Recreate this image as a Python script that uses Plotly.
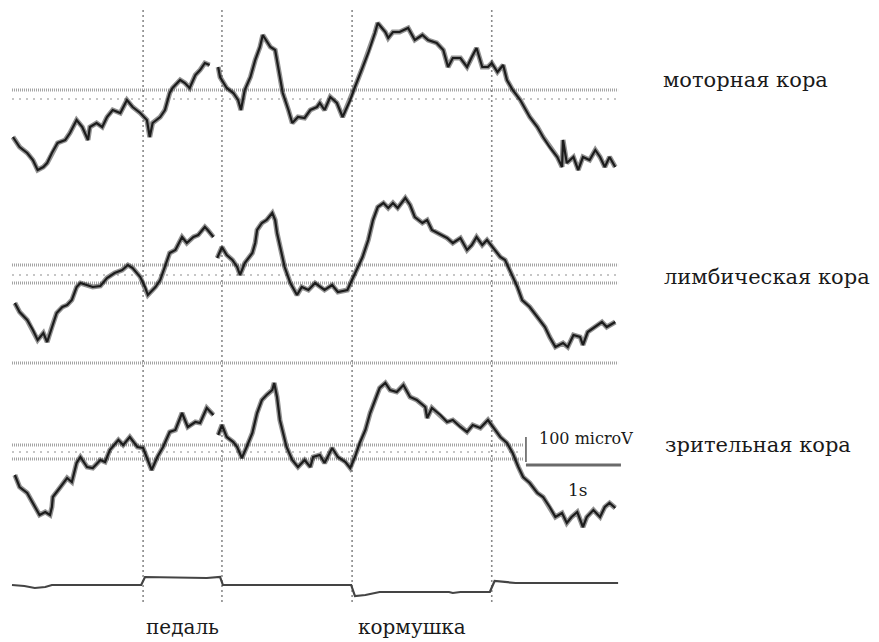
import plotly.graph_objects as go

# ---------------- data (time in s, potential in microvolts) ----------------
motor_t = [0.01, 0.08, 0.16, 0.22, 0.27, 0.33, 0.37, 0.42, 0.48, 0.56, 0.61, 0.68, 0.74, 0.80, 0.82,
           0.89, 0.95, 1.00, 1.06, 1.14, 1.21, 1.27, 1.35, 1.42, 1.45, 1.48, 1.56, 1.61, 1.66, 1.69,
           1.77, 1.82, 1.87, 1.93, 1.98, 2.03, 2.08, None,
           2.17, 2.19, 2.26, 2.33, 2.38, 2.41, 2.45, 2.51, 2.56, 2.61, 2.64, 2.72, 2.77, 2.80, 2.85,
           2.91, 2.95, 3.01, 3.08, 3.14, 3.21, 3.24, 3.29, 3.35, 3.42, 3.48, 3.56, 3.61, 3.68, 3.75,
           3.82, 3.85, 3.93, 3.96, 4.01, 4.08, 4.17, 4.24, 4.32, 4.38, 4.47, 4.54, 4.59, 4.64, 4.72,
           4.79, 4.84, 4.89, 4.95, 5.01, 5.05, 5.11, 5.17, 5.21, 5.27, 5.35, 5.45, 5.53, 5.59, 5.66,
           5.74, 5.79, 5.80, 5.84, 5.91, 5.96, 6.01, 6.08, 6.14, 6.19, 6.24, 6.29, 6.35]
motor_uv = [-188, -228, -252, -280, -320, -308, -292, -252, -212, -200, -172, -120, -148, -200, -148,
            -132, -148, -108, -80, -92, -40, -68, -92, -120, -188, -132, -108, -80, -12, 8,
            40, 28, 8, 60, 80, 108, 100, None,
            92, 52, 8, -12, -40, -80, 0, 52, 120, 172, 220, 172, 160, 92, -12,
            -80, -132, -108, -112, -80, -68, -52, -80, -28, -52, -108, -40, 12, 80, 148,
            228, 268, 232, 208, 232, 232, 248, 200, 220, 200, 188, 160, 92, 128, 128,
            92, 132, 168, 92, 92, 108, 72, 100, 40, 0, -40, -108, -148, -188, -228,
            -268, -308, -200, -292, -268, -320, -268, -280, -240, -268, -308, -268, -308]

limbic_t = [0.03, 0.08, 0.16, 0.22, 0.27, 0.33, 0.37, 0.42, 0.47, 0.53, 0.58, 0.63, 0.68, 0.72, 0.79,
            0.85, 0.93, 1.00, 1.08, 1.16, 1.22, 1.27, 1.35, 1.40, 1.43, 1.51, 1.56, 1.61, 1.66, 1.72,
            1.79, 1.84, 1.91, 1.96, 2.03, 2.06, 2.12, None,
            2.16, 2.21, 2.26, 2.32, 2.37, 2.40, 2.45, 2.53, 2.56, 2.58, 2.63, 2.68, 2.74, 2.77, 2.79,
            2.82, 2.87, 2.93, 3.00, 3.05, 3.12, 3.19, 3.29, 3.37, 3.43, 3.53, 3.58, 3.63, 3.69, 3.75,
            3.80, 3.85, 3.91, 3.96, 4.01, 4.06, 4.14, 4.19, 4.24, 4.32, 4.37, 4.42, 4.48, 4.58, 4.64,
            4.72, 4.79, 4.84, 4.89, 4.95, 5.00, 5.06, 5.14, 5.19, 5.24, 5.32, 5.37, 5.45, 5.53, 5.61,
            5.66, 5.72, 5.80, 5.85, 5.91, 5.98, 6.01, 6.06, 6.12, 6.21, 6.26, 6.35]
limbic_uv = [-112, -148, -180, -220, -260, -232, -268, -208, -152, -128, -120, -100, -48, -32, -40,
             -48, -44, -12, 8, 20, 40, 28, -8, -48, -80, -48, -20, 32, 88, 100,
             152, 128, 152, 160, 192, 180, 152, None,
             68, 112, 80, 60, 32, 0, 48, 88, 128, 180, 208, 220, 248, 220, 168,
             112, 32, -32, -80, -48, -60, -32, -60, -40, -68, -60, -20, 20, 72, 140,
             220, 272, 288, 268, 288, 268, 308, 280, 232, 208, 220, 180, 168, 148, 128,
             148, 100, 120, 152, 120, 140, 112, 72, 60, 20, -48, -100, -128, -168, -208,
             -248, -288, -272, -288, -240, -248, -280, -228, -212, -188, -208, -188]

visual_t = [0.03, 0.08, 0.16, 0.22, 0.29, 0.35, 0.40, 0.42, 0.43, 0.51, 0.58, 0.63, 0.68, 0.72, 0.79,
            0.85, 0.93, 0.98, 1.03, 1.12, 1.17, 1.24, 1.32, 1.38, 1.43, 1.47, 1.53, 1.59, 1.66, 1.72,
            1.79, 1.85, 1.93, 1.98, 2.05, 2.12, None,
            2.17, 2.21, 2.26, 2.33, 2.37, 2.42, 2.47, 2.53, 2.58, 2.63, 2.68, 2.74, 2.76, 2.79, 2.82,
            2.85, 2.89, 2.95, 3.01, 3.08, 3.14, 3.17, 3.24, 3.29, 3.37, 3.43, 3.51, 3.56, 3.61, 3.66,
            3.72, 3.77, 3.82, 3.87, 3.93, 3.98, 4.05, 4.12, 4.19, 4.26, 4.35, 4.37, 4.42, 4.51, 4.58,
            4.64, 4.72, 4.79, 4.85, 4.93, 5.01, 5.06, 5.14, 5.21, 5.27, 5.33, 5.38, 5.45, 5.53, 5.59,
            5.66, 5.72, 5.79, 5.84, 5.89, 5.95, 6.01, 6.05, 6.12, 6.19, 6.24, 6.29, 6.35]
visual_uv = [-92, -140, -164, -204, -252, -240, -252, -220, -180, -140, -104, -120, -44, -20, -60,
             -64, -32, -40, 8, 48, 28, 60, 20, 16, -32, -72, -20, 20, 80, 88,
             156, 100, 120, 116, 176, 148, None,
             68, 108, 60, 40, 20, -24, 20, 76, 156, 208, 228, 248, 276, 220, 128,
             76, 20, -32, -60, -32, -60, -20, -12, -44, 16, -20, -40, -64, -20, 36,
             88, 156, 208, 256, 276, 248, 240, 268, 220, 208, 180, 136, 176, 148, 120,
             128, 100, 80, 108, 96, 128, 100, 60, 36, -4, -60, -100, -124, -164, -180,
             -220, -260, -244, -284, -260, -240, -300, -260, -232, -260, -220, -204, -224]

marker_t = [0.00, 0.13, 0.24, 0.35, 0.42, 1.36, 1.40, 1.60, 2.05, 2.19, 2.22, 3.57, 3.61, 3.72,
            3.87, 4.60, 4.64, 4.72, 5.03, 5.08, 5.30, 6.38]
marker_v = [0, -4, -12, -8, 0, 0, 32, 30, 28, 32, 0, 0, -44, -40,
            -28, -28, -32, -28, -28, 16, 8, 8]

event_t = [1.38, 2.21, 3.58, 5.05]
event_names = ["педаль", "кормушка"]
event_name_t = [1.79, 4.21]

channel_names = ["моторная кора", "лимбическая кора", "зрительная кора"]

motor_refs_dense = [0]
motor_refs_sparse = [-36]
limbic_refs_dense = [40, -32, -352]
limbic_refs_sparse = [0]
visual_refs_dense = [28, -28]
visual_refs_sparse = [0]

scale_uv = 100
scale_s = 1
scale_labels = ["100 microV", "1s"]

# ---------------- layout constants ----------------
OFF_MOTOR, OFF_LIMBIC, OFF_VISUAL, OFF_MARKER = 0, -740, -1448, -1980
T_START, T_END = 0.0, 6.38
T_VIS_END = 5.38
EV_TOP, EV_BOT = 320, -2052
SCALE_T0, SCALE_BAR_BOTTOM = 5.41, -40
SCALE_H_LEVEL = -52

TRACE_COL = "#1c1c1c"
FUZZ_COL = "rgba(40,40,40,0.5)"
REF_COL = "#a4a4a4"
TXT_COL = "#1a1a1a"
SERIF = "DejaVu Serif, Liberation Serif, serif"

fig = go.Figure()


def hline(t0, t1, y, dense=True):
    fig.add_trace(go.Scatter(
        x=[t0, t1], y=[y, y], mode="lines", hoverinfo="skip", showlegend=False,
        line=dict(color=REF_COL if dense else "#b4b4b4", width=3 if dense else 1.4,
                  dash="1px,1px" if dense else "2px,5px")))


for r in motor_refs_dense:
    hline(T_START, T_END, r + OFF_MOTOR, True)
for r in motor_refs_sparse:
    hline(T_START, T_END, r + OFF_MOTOR, False)
for r in limbic_refs_dense:
    hline(T_START, T_END, r + OFF_LIMBIC, True)
for r in limbic_refs_sparse:
    hline(T_START, T_END, r + OFF_LIMBIC, False)
for r in visual_refs_dense:
    hline(T_START, T_VIS_END, r + OFF_VISUAL, True)
for r in visual_refs_sparse:
    hline(T_START, T_VIS_END, r + OFF_VISUAL, False)

# event lines
for te in event_t:
    fig.add_trace(go.Scatter(
        x=[te, te], y=[EV_TOP, EV_BOT], mode="lines", hoverinfo="skip", showlegend=False,
        line=dict(color="#8a8a8a", width=1.6, dash="2px,3px")))


def shifted(vals, off):
    return [None if v is None else v + off for v in vals]


for tt, vv, off in [(motor_t, motor_uv, OFF_MOTOR),
                    (limbic_t, limbic_uv, OFF_LIMBIC),
                    (visual_t, visual_uv, OFF_VISUAL)]:
    ys = shifted(vv, off)
    fig.add_trace(go.Scatter(x=tt, y=ys, mode="lines", showlegend=False, hoverinfo="skip",
                             line=dict(color=FUZZ_COL, width=5)))
    fig.add_trace(go.Scatter(x=tt, y=ys, mode="lines", showlegend=False,
                             line=dict(color=TRACE_COL, width=2.2)))

# marker channel
fig.add_trace(go.Scatter(x=marker_t, y=shifted(marker_v, OFF_MARKER), mode="lines",
                         showlegend=False, line=dict(color="#444444", width=2.2)))

# scale bars
vis_bar_bot = OFF_VISUAL + SCALE_BAR_BOTTOM
fig.add_trace(go.Scatter(x=[SCALE_T0, SCALE_T0], y=[vis_bar_bot, vis_bar_bot + scale_uv],
                         mode="lines", showlegend=False, line=dict(color="#555555", width=1.5)))
fig.add_trace(go.Scatter(x=[SCALE_T0, SCALE_T0 + scale_s],
                         y=[OFF_VISUAL + SCALE_H_LEVEL] * 2,
                         mode="lines", showlegend=False, line=dict(color="#6a6a6a", width=3)))

# labels
name_pos = [(7.72, OFF_MOTOR + 40), (7.95, OFF_LIMBIC - 8), (7.85, OFF_VISUAL + 28)]
for name, (tx, ty) in zip(channel_names, name_pos):
    fig.add_annotation(x=tx, y=ty, text=name, showarrow=False,
                       font=dict(family=SERIF, size=21, color=TXT_COL))

fig.add_annotation(x=6.04, y=OFF_VISUAL + 56, text=scale_labels[0], showarrow=False,
                   font=dict(family=SERIF, size=16, color=TXT_COL))
fig.add_annotation(x=5.96, y=OFF_VISUAL - 152, text=scale_labels[1], showarrow=False,
                   font=dict(family=SERIF, size=17, color=TXT_COL))

for name, tx in zip(event_names, event_name_t):
    fig.add_annotation(x=tx, y=OFF_MARKER - 168, text=name, showarrow=False,
                       font=dict(family=SERIF, size=20, color=TXT_COL))

# the page body adds an 8 px margin; ranges are set so the drawing lands where the reference has it
fig.update_layout(
    width=879, height=642, autosize=False,
    margin=dict(l=0, r=0, t=0, b=0),
    paper_bgcolor="white", plot_bgcolor="white",
    xaxis=dict(range=[-0.0421, 9.2105], visible=False, showgrid=False, zeroline=False),
    yaxis=dict(range=[-2240, 328], visible=False, showgrid=False, zeroline=False),
)

fig.write_html("out.html")
